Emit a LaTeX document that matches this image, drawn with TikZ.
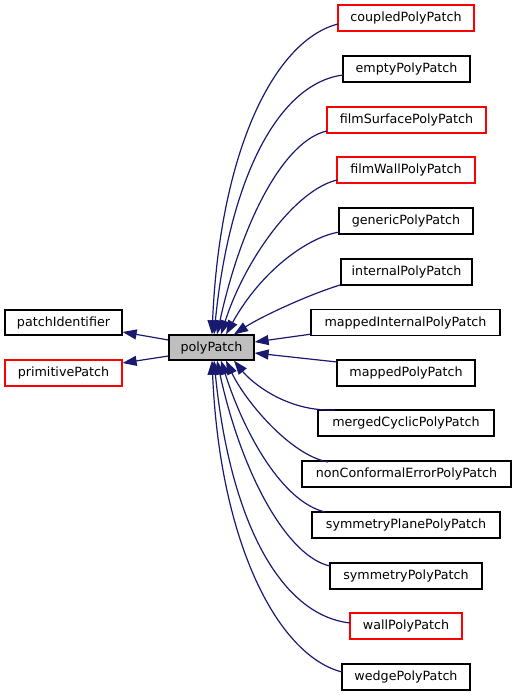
\documentclass[tikz,border=0pt]{standalone}
\usepackage{fontspec}
\setmainfont{DejaVu Sans}
\usetikzlibrary{arrows.meta}
\definecolor{edgeblue}{HTML}{191970}
\definecolor{nodered}{HTML}{FF0000}
\definecolor{basegray}{HTML}{BFBFBF}
\begin{document}
\begin{tikzpicture}[x=1pt,y=-1pt,
  cls/.style={draw=black, line width=1.25pt, fill=white, rectangle, inner sep=0pt,
    minimum height=26pt, font=\fontsize{12.7}{15}\selectfont},
  undoc/.style={cls, draw=nodered},
  inh/.style={draw=edgeblue, line width=1.2pt, -{Triangle[length=14pt,width=10pt]}}
]
\useasboundingbox (0,0) rectangle (516,696);

% base classes and the class itself
\node[cls, fill=basegray, minimum width=85pt, minimum height=25pt] (poly) at (211.5,347.5) {polyPatch};
\node[cls, minimum width=117pt, minimum height=25pt] (pid) at (63.5,322.5) {patchIdentifier};
\node[undoc, minimum width=117pt] (prim) at (63.5,373) {primitivePatch};

% derived classes
\node[undoc, minimum width=136pt] (coupled) at (406,18) {coupledPolyPatch};
\node[cls, minimum width=127pt] (empty) at (406.5,69) {emptyPolyPatch};
\node[undoc, minimum width=159pt] (filmSurface) at (406.5,120) {filmSurfacePolyPatch};
\node[undoc, minimum width=138pt] (filmWall) at (406,170) {filmWallPolyPatch};
\node[cls, minimum width=134pt] (generic) at (406,221) {genericPolyPatch};
\node[cls, minimum width=131pt] (internal) at (406.5,272) {internalPolyPatch};
\node[cls, minimum width=189pt] (mappedInternal) at (405.5,322.5) {mappedInternalPolyPatch};
\node[cls, minimum width=138pt] (mapped) at (406,373) {mappedPolyPatch};
\node[cls, minimum width=176pt] (merged) at (406,423) {mergedCyclicPolyPatch};
\node[cls, minimum width=209pt] (nonConf) at (406.5,474) {nonConformalErrorPolyPatch};
\node[cls, minimum width=188pt] (symPlane) at (406,525) {symmetryPlanePolyPatch};
\node[cls, minimum width=152pt] (sym) at (406,576) {symmetryPolyPatch};
\node[undoc, minimum width=112pt] (wall) at (406,626) {wallPolyPatch};
\node[cls, minimum width=128pt] (wedge) at (406,677) {wedgePolyPatch};

% inheritance from the base classes
\draw[inh] ([shift={(0,-7.5)}]poly.west) -- ([shift={(0,9.5)}]pid.east);
\draw[inh] ([shift={(0,8.5)}]poly.west) -- ([shift={(0,-10)}]prim.east);

% derived classes above
\draw[inh] ([shift={(-68,6)}]coupled.center) .. controls +(-63,16) and +(8,-185) .. ([xshift=0.5pt]poly.north);
\draw[inh] ([shift={(-63.5,6)}]empty.center) .. controls +(-63,8) and +(16,-160) .. ([xshift=2.5pt]poly.north);
\draw[inh] ([shift={(-79.5,11)}]filmSurface.center) .. controls +(-42,9) and +(25,-115) .. ([xshift=5.5pt]poly.north);
\draw[inh] ([shift={(-69,10)}]filmWall.center) .. controls +(-42,10) and +(24,-75) .. ([xshift=9.5pt]poly.north);
\draw[inh] ([shift={(-66,11)}]generic.center) .. controls +(-30,4) and +(36,-65) .. ([xshift=14.5pt]poly.north);
\draw[inh] ([shift={(-66.5,13)}]internal.center) .. controls +(-35,11) and +(26,-17) .. ([xshift=22.5pt]poly.north);

% derived classes beside
\draw[inh] ([shift={(-93.5,11.5)}]mappedInternal.center) -- ([shift={(0,-5.5)}]poly.east);
\draw[inh] ([shift={(-69,-11)}]mapped.center) -- ([shift={(0,5.5)}]poly.east);

% derived classes below
\draw[inh] ([shift={(-71,-13)}]merged.center) .. controls +(-50,2) and +(16,20) .. ([xshift=22.5pt]poly.south);
\draw[inh] ([shift={(-78.5,-12)}]nonConf.center) .. controls +(-38,-7) and +(19,40) .. ([xshift=14.5pt]poly.south);
\draw[inh] ([shift={(-81,-13)}]symPlane.center) .. controls +(-42,-10) and +(24,75) .. ([xshift=9.5pt]poly.south);
\draw[inh] ([shift={(-76,-10)}]sym.center) .. controls +(-42,-9) and +(25,115) .. ([xshift=5.5pt]poly.south);
\draw[inh] ([shift={(-56,-3)}]wall.center) .. controls +(-70,-8) and +(16,160) .. ([xshift=2.5pt]poly.south);
\draw[inh] ([shift={(-64,-5)}]wedge.center) .. controls +(-63,-16) and +(8,185) .. ([xshift=0.5pt]poly.south);
\end{tikzpicture}
\end{document}
